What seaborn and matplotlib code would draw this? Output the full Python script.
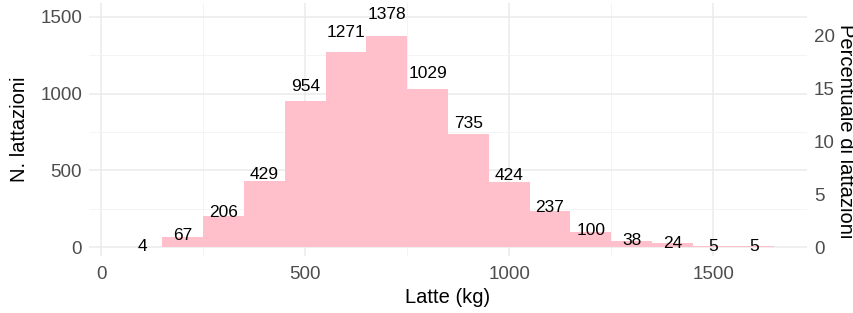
import pandas as pd
import matplotlib
matplotlib.use("Agg")
import matplotlib.pyplot as plt
import seaborn as sns

# Data: milk yield bins (kg) and number of lactations per bin
bin_centers = [100, 200, 300, 400, 500, 600, 700, 800, 900, 1000,
               1100, 1200, 1300, 1400, 1500, 1600]
counts = [4, 67, 206, 429, 954, 1271, 1378, 1029, 735, 424,
          237, 100, 38, 24, 5, 5]
bin_width = 100

x_ticks = [0, 500, 1000, 1500]
y_ticks = [0, 500, 1000, 1500]
pct_ticks = [0, 5, 10, 15, 20]

sns.set_theme(style="whitegrid")
plt.rcParams["font.family"] = ["Liberation Sans", "DejaVu Sans"]

df = pd.DataFrame({"latte": bin_centers, "n": counts})
total = df["n"].sum()
edges = [c - bin_width / 2 for c in bin_centers] + [bin_centers[-1] + bin_width / 2]

fig = plt.figure(figsize=(8.54, 3.13), dpi=100)
ax = fig.add_axes([0.1042, 0.182, 0.8408, 0.808])

sns.histplot(data=df, x="latte", weights="n", bins=edges, color="#FFC0CB",
             alpha=1, edgecolor="none", linewidth=0, ax=ax, zorder=2)

for c, n in zip(bin_centers, counts):
    ax.text(c, n * 1.1, str(n), ha="center", va="center",
            fontsize=12.5, color="black", zorder=3)

ax.set_xlim(-30, 1730)
ax.set_ylim(-58, 1590)
ax.set_xticks(x_ticks)
ax.set_yticks(y_ticks)
ax.set_xticks([250, 750, 1250], minor=True)
ax.set_yticks([250, 750, 1250], minor=True)
ax.grid(which="major", color="#EBEBEB", linewidth=1.1, zorder=0)
ax.grid(which="minor", color="#F2F2F2", linewidth=0.6, zorder=0)
ax.set_axisbelow(True)
for s in ax.spines.values():
    s.set_visible(False)
ax.tick_params(axis="both", which="both", length=0, labelsize=13.5,
               labelcolor="#4D4D4D")
ax.tick_params(axis="x", pad=7)
ax.tick_params(axis="y", pad=5)

ax.set_xlabel("Latte (kg)", fontsize=14.5, labelpad=4, color="black")
ax.set_ylabel("N. lattazioni", fontsize=14.5, labelpad=8, color="black")

sec = ax.secondary_yaxis("right", functions=(lambda v: v / total * 100,
                                             lambda p: p * total / 100))
sec.set_yticks(pct_ticks)
sec.tick_params(length=0, labelsize=13.5, labelcolor="#4D4D4D", pad=5)
for s in sec.spines.values():
    s.set_visible(False)
fig.text(846 / 854, 1 - 131 / 313, "Percentuale di lattazioni", fontsize=14.5,
         rotation=270, ha="center", va="center", color="black")

fig.savefig("out.png", dpi=100, facecolor="white")
